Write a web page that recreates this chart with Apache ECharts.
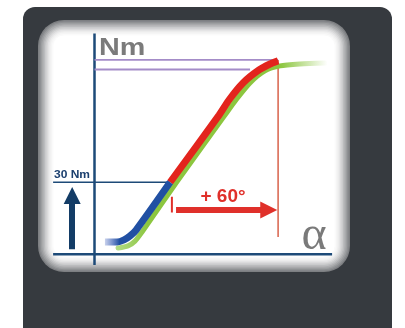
<!DOCTYPE html>
<html><head><meta charset="utf-8">
<script src="https://cdn.jsdelivr.net/npm/echarts@6/dist/echarts.min.js"></script>
<style>html,body{margin:0;padding:0;background:#ffffff;}#c{width:405px;height:328px;}</style>
</head><body><div id="c"></div>
<script>
// angle (deg) / torque (Nm) data
const blueAngle  = [5.8, 12.5, 16.4, 19.7, 23.1, 42];
const blueTorque = [5.1, 5.1, 6.0, 7.6, 10.1, 30];
const redAngle   = [42, 69.2, 74.7, 82.5, 91.4, 97.5, 102];
const redTorque  = [30, 58.0, 64.3, 71.4, 76.8, 79.3, 80.6];
const greenAngle  = [13.1, 18.6, 22.5, 26.4, 45.3, 72.5, 78.6, 86.4, 94.7, 103.1, 114.2, 128.1];
const greenTorque = [2.6, 3.5, 5.5, 9.3, 29.7, 58.0, 64.3, 71.4, 76.4, 78.5, 79.3, 79.7];
const thresholdTorque = 30;       // "30 Nm"
const startAngle = 42;            // where 30 Nm is reached
const extraAngle = 60;            // "+ 60°"
const endAngle = startAngle + extraAngle;
const maxTorqueLine = 81;
const secondTorqueLine = 77;
const secondLineEnd = 86.4;
const axisRangeX = [-23, 132];
const axisRangeY = [-4.5, 92];
const arrowTorque = 18.5;
const arrowFrom = 45.3, arrowTo = 96.8;
const upArrowAngle = -12.4, upArrowFrom = 2.1, upArrowTo = 24.5;
const labels = {unit: 'Nm', threshold: '30 Nm', delta: '+ 60°', angle: 'α'};

const zip = (a, b) => a.map((v, i) => [v, b[i]]);
const navy = '#1d4a78';
const seg = (name, pts, color, width) => ({
  type: 'line', name, data: pts, symbol: 'none', silent: true, animation: false,
  lineStyle: {color, width, cap: 'butt'}, z: 3
});

const chart = echarts.init(document.getElementById('c'), null, {renderer: 'canvas'});

// card layers (outer grey to inner white)
const layerColors = ['#7d7f82','#8c8e91','#9c9ea0','#acadaf','#bbbcbe','#cacbcc','#d8d8d9','#e4e4e5','#eeeeee','#f5f5f5','#fafafa','#ffffff'];
const card = {x: 38, y: 20, w: 312, h: 252, r: 26};
const cardLayers = layerColors.map((c, i) => {
  const d = i * 1.4;
  return {type: 'rect', z: -50 + i, silent: true,
    shape: {x: card.x + d, y: card.y + d, width: card.w - 2 * d, height: card.h - 2 * d, r: Math.max(card.r - d, 6)},
    style: {fill: c}};
});

chart.setOption({
  animation: false,
  backgroundColor: '#ffffff',
  grid: {left: 53.1, top: 33.5, width: 279, height: 231.6, containLabel: false},
  xAxis: {type: 'value', min: axisRangeX[0], max: axisRangeX[1], show: false},
  yAxis: {type: 'value', min: axisRangeY[0], max: axisRangeY[1], show: false},
  graphic: [
    {type: 'rect', z: -60, silent: true, shape: {x: 23, y: 7, width: 369, height: 330, r: [12, 12, 0, 0]}, style: {fill: '#363a3f'}},
    ...cardLayers,
    {type: 'text', z: 100, x: 99, y: 48.5, scaleX: 1.25, style: {text: labels.unit, font: 'bold 23px "Liberation Sans", Arial, sans-serif', fill: '#7b7b7b', textAlign: 'left', textVerticalAlign: 'middle'}},
    {type: 'text', z: 100, x: 54, y: 175.5, scaleX: 1.2, style: {text: labels.threshold, font: 'bold 10px "Liberation Sans", Arial, sans-serif', fill: '#1b3f6e', textAlign: 'left', textVerticalAlign: 'middle'}},
    {type: 'text', z: 100, x: 223, y: 196.5, style: {text: labels.delta, font: 'bold 19px "Liberation Sans", Arial, sans-serif', fill: '#e0302a', textAlign: 'center', textVerticalAlign: 'middle'}},
    {type: 'text', z: 100, x: 314, y: 236, style: {text: labels.angle, font: '48px "Liberation Serif", "DejaVu Serif", serif', fill: '#7a7a7a', textAlign: 'center', textVerticalAlign: 'middle'}}
  ],
  series: [
    seg('yAxisLine', [[0, axisRangeY[0]], [0, axisRangeY[1]]], navy, 2.5),
    seg('xAxisLine', [[axisRangeX[0], 0], [axisRangeX[1], 0]], navy, 2.5),
    seg('maxLine', [[0, maxTorqueLine], [endAngle, maxTorqueLine]], '#a48cc8', 1.8),
    seg('secondLine', [[0, secondTorqueLine], [secondLineEnd, secondTorqueLine]], '#a48cc8', 1.8),
    seg('thresholdLine', [[axisRangeX[0], thresholdTorque], [startAngle, thresholdTorque]], navy, 1.5),
    seg('endLine', [[endAngle, 7.2], [endAngle, maxTorqueLine]], '#d8614a', 1.5),
    seg('startTick', [[startAngle + 1, 17.4], [startAngle + 1, 24]], '#e0302a', 2),
    {
      type: 'line', name: 'green', data: zip(greenAngle, greenTorque), symbol: 'none', silent: true,
      smooth: 0.25, z: 4,
      lineStyle: {width: 5, cap: 'round', color: {type: 'linear', x: 0, y: 0, x2: 1, y2: 0, colorStops: [
        {offset: 0, color: 'rgba(170,215,120,0.9)'}, {offset: 0.15, color: '#8cc63f'},
        {offset: 0.78, color: '#8cc63f'}, {offset: 1, color: 'rgba(140,198,63,0)'}]}}
    },
    {
      type: 'line', name: 'red', data: zip(redAngle, redTorque), symbol: 'none', silent: true,
      smooth: 0.25, z: 5,
      lineStyle: {width: 7, color: '#e3241d', cap: 'butt'}
    },
    {
      type: 'line', name: 'blue', data: zip(blueAngle, blueTorque), symbol: 'none', silent: true,
      smooth: 0.25, z: 6,
      lineStyle: {width: 7, cap: 'butt', color: {type: 'linear', x: 0, y: 0, x2: 1, y2: 0, colorStops: [
        {offset: 0, color: 'rgba(60,90,190,0.1)'}, {offset: 0.25, color: '#2150a3'}, {offset: 1, color: '#2150a3'}]}}
    },
    {
      type: 'lines', coordinateSystem: 'cartesian2d', silent: true, z: 7,
      symbol: ['none', 'triangle'], symbolSize: 17,
      lineStyle: {color: '#e0302a', width: 6, opacity: 1, curveness: 0},
      data: [{coords: [[arrowFrom, arrowTorque], [arrowTo, arrowTorque]]}]
    },
    {
      type: 'lines', coordinateSystem: 'cartesian2d', silent: true, z: 7,
      symbol: ['none', 'triangle'], symbolSize: 17,
      lineStyle: {color: '#133c66', width: 6, opacity: 1, curveness: 0},
      data: [{coords: [[upArrowAngle, upArrowFrom], [upArrowAngle, upArrowTo]]}]
    }
  ]
});
</script></body></html>
